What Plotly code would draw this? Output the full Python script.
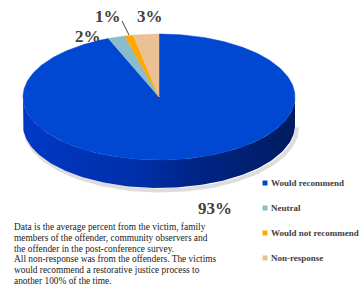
import numpy as np
import plotly.graph_objects as go

# ---- data ----
categories = ["Would recommend", "Neutral", "Would not recommend", "Non-response"]
values = [93, 2, 1, 3]
colors = ["#0047d2", "#8bbccb", "#ffa800", "#ebc095"]
note_lines = [
    "Data is the average percent from the victim, family",
    "members of the offender, community observers and",
    "the offender in the post-conference survey.",
    "All non-response was from the offenders. The victims",
    "would recommend a restorative justice process to",
    "another 100% of the time.",
]

# ---- geometry (pixel-space axes) ----
W, H = 362, 289
cx, cy, a, b, depth = 159, 97, 136, 63, 28


def pt(theta, dy=0.0):
    return cx + a * np.sin(theta), cy - b * np.cos(theta) + dy


fig = go.Figure()

# soft shadow under the pie
th = np.linspace(np.pi / 2, 3 * np.pi / 2, 120)
sx, sy = pt(th, depth + 2.5)
fig.add_trace(go.Scatter(x=sx + 2, y=sy, mode="lines",
                         line=dict(color="rgba(120,120,120,0.25)", width=4),
                         hoverinfo="skip", showlegend=False))

# front side wall (visible part is all "Would recommend")
tx, ty = pt(th)
bx, by = pt(th[::-1], depth)
fig.add_trace(go.Scatter(
    x=np.concatenate([tx, bx]), y=np.concatenate([ty, by]),
    mode="lines", fill="toself", line=dict(width=0),
    fillgradient=dict(type="horizontal",
                      colorscale=[[0, "#0038c6"], [0.45, "#002ea6"], [0.6, "#00268a"], [1, "#001b60"]]),
    hoverinfo="skip", showlegend=False))

# top slices
total = sum(values)
start = 0.0
for cat, v, col in zip(categories, values, colors):
    span = 2 * np.pi * v / total
    t = np.linspace(start, start + span, max(4, int(v * 4)))
    px, py = pt(t)
    fig.add_trace(go.Scatter(
        x=np.concatenate([[cx], px, [cx]]), y=np.concatenate([[cy], py, [cy]]),
        mode="lines", fill="toself", fillcolor=col, line=dict(width=0.5, color=col),
        name=cat, hoverinfo="name", showlegend=False))
    start += span

# data labels
lab_font = dict(family="Liberation Serif", size=17, color="#404040")
label_pos = {"Would recommend": (215, 208), "Neutral": (88, 36),
             "Would not recommend": (108, 16), "Non-response": (150, 16)}
for cat, v in zip(categories, values):
    x, y = label_pos[cat]
    fig.add_annotation(x=x, y=y, text=f"<b>{v}%</b>", showarrow=False,
                       font=lab_font, xanchor="center", yanchor="middle")
fig.add_shape(type="line", x0=122, y0=21, x1=129, y1=35,
              line=dict(color="#404040", width=1))

# legend
leg_y = [183 + 25 * i for i in range(len(categories))]
fig.add_trace(go.Scatter(x=[265] * len(categories), y=leg_y, mode="markers",
                         marker=dict(symbol="square", size=5, color=colors),
                         hoverinfo="skip", showlegend=False))
for cat, y in zip(categories, leg_y):
    fig.add_annotation(x=269, y=y, text=f"<b>{cat}</b>", showarrow=False,
                       xanchor="left", yanchor="middle",
                       font=dict(family="Liberation Serif", size=9, color="#404040"))

# note text
for i, line in enumerate(note_lines):
    fig.add_annotation(x=12, y=227 + 10.8 * i, text=line, showarrow=False,
                       xanchor="left", yanchor="middle",
                       font=dict(family="Liberation Serif", size=9.4, color="#222222"))

fig.update_layout(
    width=W, height=H, autosize=False,
    margin=dict(l=0, r=0, t=0, b=0),
    paper_bgcolor="white", plot_bgcolor="white",
    xaxis=dict(range=[0, W], visible=False, fixedrange=True),
    yaxis=dict(range=[H, 0], visible=False, fixedrange=True),
)
fig.write_html("out.html", config={"displayModeBar": False},
               post_script="document.body.style.margin='0';")
